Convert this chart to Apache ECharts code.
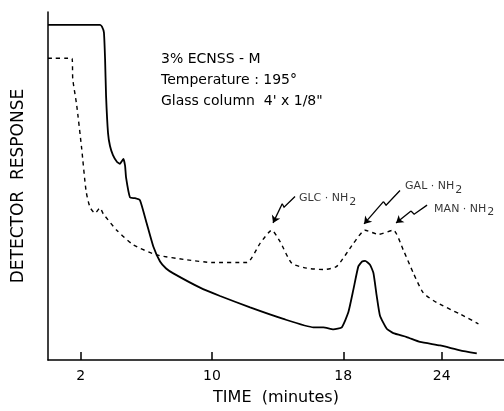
<!DOCTYPE html>
<html>
<head>
<meta charset="utf-8">
<script src="https://cdn.jsdelivr.net/npm/echarts@6/dist/echarts.min.js"></script>
<style>html,body{margin:0;padding:0;background:#fff}#c{width:504px;height:411px}</style>
</head>
<body>
<div id="c"></div>
<script>
// Time in minutes, detector response (arbitrary units 0-100)
const solidTime = [0,3.17,3.29,3.41,3.48,3.54,3.66,3.78,3.96,4.21,4.39,4.51,4.60,4.70,4.76,5.00,5.30,5.61,6.02,6.42,6.83,7.20,7.64,9.27,10.49,12.32,14.35,16.18,16.79,17.40,17.91,18.31,18.62,18.92,19.15,19.33,19.63,19.84,20.04,20.24,20.65,21.05,21.87,22.68,23.90,25.12,26.14];
const solidResp = [96.3,96.3,95.8,94.1,86.4,75.9,65.2,61.5,58.9,56.9,56.4,57.2,57.8,55.8,52.4,46.7,46.5,45.9,39.2,32.6,28.3,26.3,24.9,20.8,18.4,15.1,11.8,9.4,9.4,8.8,9.4,13.7,20.3,26.9,28.3,28.5,27.4,25.0,18.4,12.7,9.0,7.7,6.6,5.2,4.2,2.8,1.9];
const dashTime = [0,1.46,1.51,1.75,2.05,2.32,2.56,2.87,3.17,3.37,4.19,5.20,6.63,8.46,10.08,12.12,12.93,13.64,14.15,14.86,15.77,16.79,17.60,18.62,19.33,20.14,21.05,21.66,22.27,22.88,23.70,25.12,26.24];
const dashResp = [86.7,86.7,80.7,73.2,60.9,48.6,43.9,42.2,43.7,42.0,37.3,33.1,30.2,28.8,28.0,28.0,33.5,37.3,34.0,27.8,26.4,26.0,26.9,33.5,37.3,36.1,37.3,31.6,25.0,19.3,16.5,13.2,10.4];
const tickValues = [2,10,18,24];
const peakNames = ['GLC · NH', 'GAL · NH', 'MAN · NH'];
const peakLabelPos = [[15.3,46.5],[21.77,49.9],[23.54,43.4]];
const arrowPaths = [
  [[15.06,47.0],[14.39,43.9],[14.28,44.9],[13.72,39.4]],
  [[21.46,48.7],[20.61,44.5],[20.45,45.5],[19.27,39.1]],
  [[23.11,44.5],[22.32,41.9],[22.13,42.8],[21.22,39.4]]
];
const infoLines = ['3% ECNSS - M', 'Temperature : 195°', 'Glass column  4\' x 1/8"'];

const ink = '#000';
const font = 'DejaVu Sans';
const chart = echarts.init(document.getElementById('c'), null, {renderer:'canvas'});
const zip = (a,b) => a.map((x,i)=>[x,b[i]]);

chart.setOption({
  backgroundColor:'#fff',
  animation:false,
  grid:{left:48, right:0, top:12, bottom:46},
  xAxis:{
    type:'value', min:0, max:27.8,
    axisLine:{show:true, lineStyle:{color:ink, width:1.5}},
    axisTick:{show:true, inside:true, length:8, customValues:tickValues, lineStyle:{color:ink, width:1.5}},
    axisLabel:{show:true, customValues:tickValues, color:ink, fontFamily:font, fontSize:14, margin:9},
    splitLine:{show:false},
    name:'TIME  (minutes)', nameLocation:'middle', nameGap:30,
    nameTextStyle:{color:ink, fontFamily:font, fontSize:16}
  },
  yAxis:{
    type:'value', min:0, max:100,
    axisLine:{show:true, lineStyle:{color:ink, width:1.5}},
    axisTick:{show:false}, axisLabel:{show:false}, splitLine:{show:false},
    name:'DETECTOR  RESPONSE', nameLocation:'middle', nameRotate:90, nameGap:21,
    nameTextStyle:{color:ink, fontFamily:font, fontSize:17}
  },
  graphic: infoLines.map((t,i)=>({
    type:'text', left:161, top:52 + i*21,
    style:{text:t, fill:ink, font:'14px "DejaVu Sans"'}
  })),
  series:[
    {type:'line', data:zip(solidTime,solidResp), showSymbol:false, smooth:0.15,
     lineStyle:{color:ink, width:1.8}},
    {type:'line', data:zip(dashTime,dashResp), showSymbol:false, smooth:0.2,
     lineStyle:{color:ink, width:1.4, type:[4,4]}},
    {type:'lines', coordinateSystem:'cartesian2d', polyline:true,
     lineStyle:{color:ink, width:1.3, opacity:1},
     data: arrowPaths.map(p=>({coords:p.slice(0,3)}))},
    {type:'lines', coordinateSystem:'cartesian2d',
     symbol:['none','arrow'], symbolSize:7,
     lineStyle:{color:ink, width:1.3, opacity:1},
     data: arrowPaths.map(p=>({coords:p.slice(2,4)}))},
    {type:'scatter', symbolSize:0,
     data: peakLabelPos.map((p,i)=>({value:p, name:peakNames[i]})),
     label:{show:true, position:'right', distance:0, color:ink,
       formatter:(p)=>'{a|'+p.name+'}{s|2}',
       rich:{
         a:{fontFamily:font, fontSize:11, color:ink, lineHeight:14},
         s:{fontFamily:font, fontSize:11, color:ink, padding:[7,0,0,1], lineHeight:14}
       }}}
  ]
});
</script>
</body>
</html>
